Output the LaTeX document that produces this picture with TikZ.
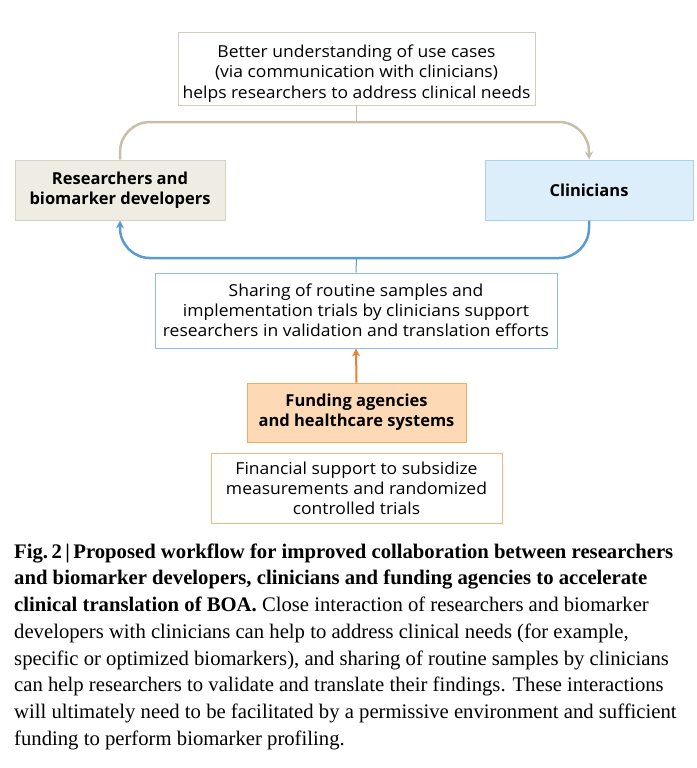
\documentclass[tikz,border=0pt]{standalone}
\usepackage{fontspec}
\setmainfont{Open Sans}[FakeStretch=1.06]
\newfontfamily\actorfont{Open Sans}
\newfontfamily\capfont{Liberation Serif}
\usetikzlibrary{arrows.meta}

\definecolor{tanedge}{HTML}{D3CEBC}
\definecolor{tanline}{HTML}{C6C0A8}
\definecolor{resfill}{HTML}{EFEDE3}
\definecolor{resedge}{HTML}{D7D3C3}
\definecolor{clifill}{HTML}{DCEEFA}
\definecolor{cliedge}{HTML}{A8D3EF}
\definecolor{blueline}{HTML}{5A9BD2}
\definecolor{shareedge}{HTML}{8DBFE1}
\definecolor{orangeline}{HTML}{EE7E2C}
\definecolor{fundfill}{HTML}{FDD9B6}
\definecolor{fundedge}{HTML}{F4A862}
\definecolor{finedge}{HTML}{F6B682}

\tikzset{
  notebox/.style={draw, line width=1pt, fill=white, align=center, inner sep=0pt,
    font=\fontsize{16.5}{20}\selectfont},
  actorbox/.style={draw, line width=1pt, align=center, inner sep=0pt,
    font=\actorfont\fontsize{16.5}{20}\selectfont\bfseries},
  loopline/.style={line width=2.5pt, rounded corners=30pt, -{Stealth[length=8pt,width=8pt]}},
  stemline/.style={line width=1pt},
  caption/.style={anchor=north west, align=left, inner sep=0pt,
    font=\capfont\fontsize{20.7}{26.7}\selectfont}
}

\begin{document}
\begin{tikzpicture}[x=1pt,y=-1pt]
  \useasboundingbox (0,0) rectangle (696,768);

  % boxes
  \node[notebox, draw=tanedge, minimum width=357pt, minimum height=72pt,
    text height=58pt, text depth=0pt] (use) at (356.5,69)
    {Better understanding of use cases\\(via communication with clinicians)\\helps researchers to address clinical needs};
  \node[actorbox, fill=resfill, draw=resedge, minimum width=210pt, minimum height=60pt] (res) at (120,190)
    {Researchers and\\biomarker developers};
  \node[actorbox, fill=clifill, draw=cliedge, minimum width=208pt, minimum height=60pt] (cli) at (589,190)
    {Clinicians};
  \node[notebox, draw=shareedge, minimum width=402pt, minimum height=75pt] (share) at (356,310.5)
    {Sharing of routine samples and\\implementation trials by clinicians support\\researchers in validation and translation efforts};
  \node[actorbox, fill=fundfill, draw=fundedge, minimum width=219pt, minimum height=59pt] (fund) at (356.5,412.5)
    {Funding agencies\\and healthcare systems};
  \node[notebox, draw=finedge, minimum width=291pt, minimum height=70pt] (fin) at (356.5,488)
    {Financial support to subsidize\\measurements and randomized\\controlled trials};

  % loops
  \coordinate (toploop) at (356.5,122);
  \coordinate (bottomloop) at (356.5,258);
  \draw[stemline, tanline] (use.south) -- (toploop);
  \draw[loopline, tanline] (res.north) |- (toploop) -| (cli.north);
  \draw[loopline, blueline] (cli.south) |- (bottomloop) -| (res.south);
  \draw[stemline, blueline] (bottomloop) -- (share.north);
  \draw[line width=2pt, orangeline, -{Stealth[length=8pt,width=8pt]}] (fund.north) -- (share.south);

  % caption
  \node[caption] (figcap) at (14,543.5)
    {{\bfseries Fig.\,2\,|\,Proposed workflow for improved collaboration between researchers}\\
     {\bfseries and biomarker developers, clinicians and funding agencies to accelerate}\\
     {\bfseries clinical translation of BOA.} Close interaction of researchers and biomarker\\
     developers with clinicians can help to address clinical needs (for example,\\
     specific or optimized biomarkers), and sharing of routine samples by clinicians\\
     can help researchers to validate and translate their findings. These interactions\\
     will ultimately need to be facilitated by a permissive environment and sufficient\\
     funding to perform biomarker profiling.};
\end{tikzpicture}
\end{document}
